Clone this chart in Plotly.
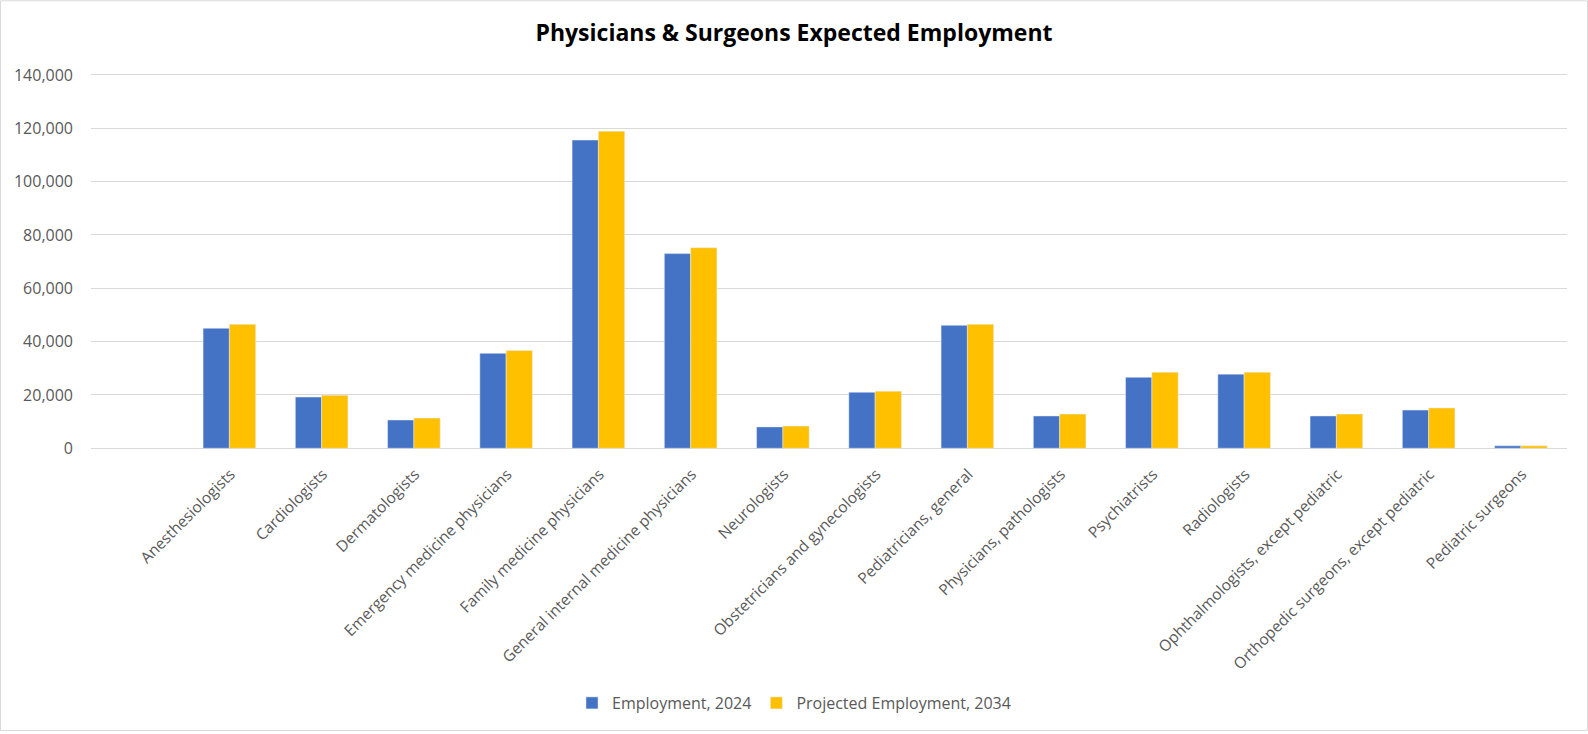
import plotly.graph_objects as go

# occupations (first slot is empty in the source sheet)
categories = [
    " ",
    "Anesthesiologists",
    "Cardiologists",
    "Dermatologists",
    "Emergency medicine physicians",
    "Family medicine physicians",
    "General internal medicine physicians",
    "Neurologists",
    "Obstetricians and gynecologists",
    "Pediatricians, general",
    "Physicians, pathologists",
    "Psychiatrists",
    "Radiologists",
    "Ophthalmologists, except pediatric",
    "Orthopedic surgeons, except pediatric",
    "Pediatric surgeons",
]

employment_2024 = [None, 45000, 19200, 10600, 35600, 115600, 73000, 8000,
                   21000, 46100, 12100, 26600, 27800, 12100, 14300, 900]
projected_2034 = [None, 46500, 19900, 11300, 36700, 118900, 75200, 8300,
                  21400, 46500, 12800, 28500, 28500, 12800, 15100, 900]

y_ticks = [0, 20000, 40000, 60000, 80000, 100000, 120000, 140000]

W, H = 1588, 734
# pad the value range a little so the 0 and 140,000 gridlines get drawn
pad = 2 * 140000 / 375
L, R, T, B = 91, 21, 73, 282
pw, ph = W - L - R, H - T - B

FONT = "Open Sans"

fig = go.Figure()
fig.add_trace(go.Bar(x=categories, y=employment_2024, name="Employment, 2024",
                     marker_color="#4472C4"))
fig.add_trace(go.Bar(x=categories, y=projected_2034, name="Projected Employment, 2034",
                     marker_color="#FFC000"))

fig.update_layout(
    width=W, height=H,
    margin=dict(l=L, r=R, t=T, b=B),
    paper_bgcolor="white", plot_bgcolor="white",
    font=dict(family=FONT, color="#595959", size=15),
    barmode="group", bargap=0.43, bargroupgap=0,
    title=dict(text="<b>Physicians & Surgeons Expected Employment</b>",
               x=0.5, xref="container", xanchor="center",
               y=1 - 33 / H, yref="container", yanchor="middle",
               font=dict(family=FONT, size=23, color="#000000")),
    legend=dict(orientation="h", x=0.5, xref="container", xanchor="center",
                y=1 - 703 / H, yref="container", yanchor="middle",
                font=dict(size=16, color="#595959"), itemwidth=30,
                traceorder="normal"),
    showlegend=True,
)

fig.update_xaxes(tickangle=-45, showline=False, ticks="", showgrid=False,
                 ticklabelshift=1, ticklabelstandoff=11,
                 tickfont=dict(size=15.5, color="#595959"))
fig.update_yaxes(range=[-pad, 140000 + pad], tickvals=y_ticks, tickformat=",",
                 showgrid=True, gridcolor="#D9D9D9", gridwidth=1,
                 zeroline=False, showline=False, ticks="",
                 ticklabelstandoff=17,
                 tickfont=dict(size=16, color="#595959"))

# light chart border around the whole figure
fig.add_shape(type="rect", xref="paper", yref="paper",
              x0=(0.5 - L) / pw, x1=1 + (R - 0.5) / pw,
              y0=-(B - 0.5) / ph, y1=1 + (T - 0.5) / ph,
              line=dict(color="#D9D9D9", width=1), layer="below")

# drop the browser's default body margin so the chart fills the window
fig.write_html("out.html", config={"displayModeBar": False},
               post_script="document.body.style.margin='0px';")
